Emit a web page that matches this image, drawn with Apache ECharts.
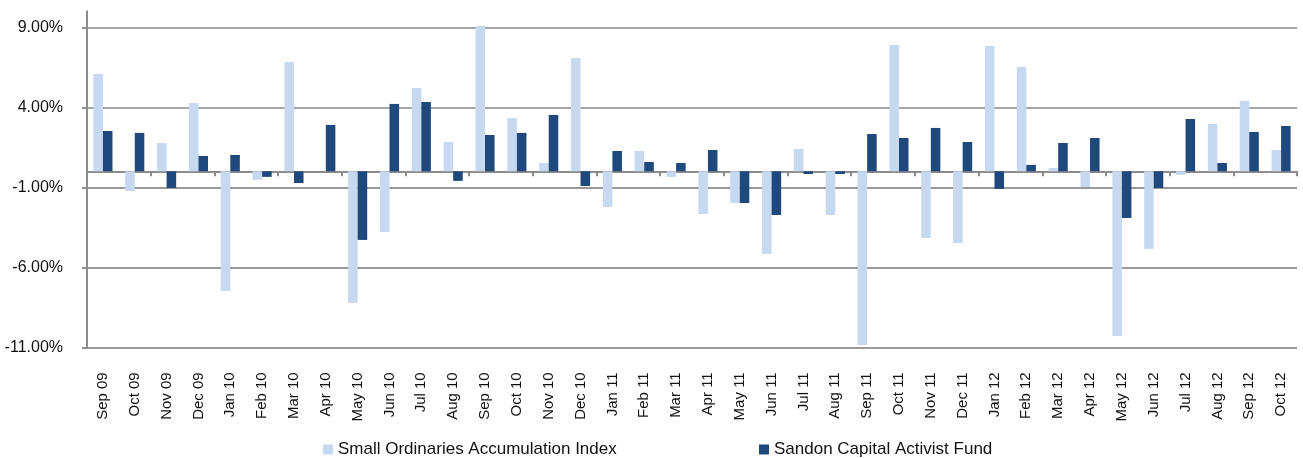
<!DOCTYPE html>
<html>
<head>
<meta charset="utf-8">
<script src="https://cdn.jsdelivr.net/npm/echarts@6/dist/echarts.min.js"></script>
<style>
html,body{margin:0;padding:0;background:#fff;}
#chart{width:1303px;height:458px;}
</style>
</head>
<body>
<div id="chart"></div>
<script>
const categories = ['Sep 09','Oct 09','Nov 09','Dec 09','Jan 10','Feb 10','Mar 10','Apr 10','May 10','Jun 10','Jul 10','Aug 10','Sep 10','Oct 10','Nov 10','Dec 10','Jan 11','Feb 11','Mar 11','Apr 11','May 11','Jun 11','Jul 11','Aug 11','Sep 11','Oct 11','Nov 11','Dec 11','Jan 12','Feb 12','Mar 12','Apr 12','May 12','Jun 12','Jul 12','Aug 12','Sep 12','Oct 12'];

const smallOrds = [6.08,-1.23,1.77,4.27,-7.48,-0.54,6.83,0.0,-8.23,-3.79,5.21,1.83,9.08,3.33,0.52,7.08,-2.23,1.27,-0.35,-2.67,-1.98,-5.17,1.40,-2.73,-10.85,7.90,-4.17,-4.48,7.83,6.52,0.21,-0.98,-10.29,-4.85,-0.23,2.96,4.40,1.33];

const sandon = [2.52,2.40,-1.04,0.96,1.02,-0.35,-0.73,2.90,-4.29,4.21,4.33,-0.60,2.27,2.40,3.52,-0.92,1.27,0.58,0.52,1.33,-1.98,-2.73,-0.17,-0.17,2.33,2.08,2.71,1.83,-1.10,0.40,1.77,2.08,-2.92,-1.04,3.27,0.52,2.46,2.83];

const yTicks = [-11, -6, -1, 4, 9];

const seriesNames = ['Small Ordinaries Accumulation Index', 'Sandon Capital Activist Fund'];

const chart = echarts.init(document.getElementById('chart'));
const font = 'Liberation Sans';
chart.setOption({
  animation: false,
  backgroundColor: '#ffffff',
  grid: { left: 87, right: 6, top: 11.3, bottom: 110.7, containLabel: false },
  legend: [
    { data: [seriesNames[0]], left: 323, top: 441, padding: 0, itemWidth: 10, itemHeight: 10, itemGap: 5,
      icon: 'rect', textStyle: { fontFamily: font, fontSize: 17, color: '#111' } },
    { data: [seriesNames[1]], left: 759, top: 441, padding: 0, itemWidth: 10, itemHeight: 10, itemGap: 5,
      icon: 'rect', textStyle: { fontFamily: font, fontSize: 17, color: '#111' } }
  ],
  xAxis: [
    {
      type: 'category', data: categories, position: 'bottom',
      axisLine: { show: true, onZero: true, lineStyle: { color: '#8c8c8c', width: 2 } },
      axisTick: { show: true, length: 5, alignWithLabel: false, lineStyle: { color: '#8c8c8c', width: 2 } },
      axisLabel: { show: false },
      splitLine: { show: false }
    },
    {
      type: 'category', data: categories, position: 'bottom',
      axisLine: { show: false, onZero: false },
      axisTick: { show: false },
      axisLabel: { show: true, rotate: 90, margin: 25, interval: 0,
        fontFamily: font, fontSize: 15, color: '#111' },
      splitLine: { show: false }
    }
  ],
  yAxis: {
    type: 'value', min: -11, max: 10, interval: 5,
    axisLine: { show: true, lineStyle: { color: '#8c8c8c', width: 2 } },
    axisTick: { show: true, length: 5, inside: false, customValues: yTicks, lineStyle: { color: '#8c8c8c', width: 2 } },
    axisLabel: {
      margin: 24, fontFamily: font, fontSize: 16, color: '#111', customValues: yTicks,
      formatter: function (v) { return yTicks.indexOf(Math.round(v)) >= 0 && Math.abs(v - Math.round(v)) < 1e-9 ? v.toFixed(2) + '%' : ''; }
    },
    splitLine: { show: true, lineStyle: { color: ['#999999','#999999','#999999','#a6a6a6','#a6a6a6','rgba(0,0,0,0)'], width: 2 } }
  },
  series: [
    { name: seriesNames[0], type: 'bar', data: smallOrds, xAxisIndex: 0,
      itemStyle: { color: '#c6d9f0' }, barGap: '0%', barCategoryGap: '40%' },
    { name: seriesNames[1], type: 'bar', data: sandon, xAxisIndex: 0,
      itemStyle: { color: '#1f497d' }, barGap: '0%', barCategoryGap: '40%' }
  ]
});
</script>
</body>
</html>
